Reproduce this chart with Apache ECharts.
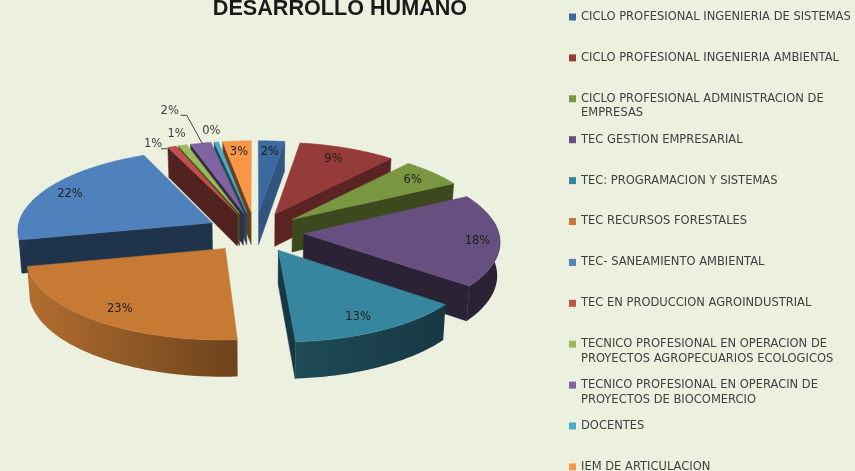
<!DOCTYPE html>
<html>
<head>
<meta charset="utf-8">
<style>
html,body{margin:0;padding:0;background:#ebf0df;}
#chart{width:855px;height:471px;}
</style>
<script src="https://cdn.jsdelivr.net/npm/echarts@6/dist/echarts.min.js"></script>
</head>
<body>
<div id="chart"></div>
<script>
const chartTitle = 'DESARROLLO HUMANO';
const categories = [
  'CICLO PROFESIONAL INGENIERIA DE SISTEMAS',
  'CICLO PROFESIONAL INGENIERIA AMBIENTAL',
  'CICLO PROFESIONAL ADMINISTRACION DE\nEMPRESAS',
  'TEC GESTION EMPRESARIAL',
  'TEC: PROGRAMACION Y SISTEMAS',
  'TEC RECURSOS FORESTALES',
  'TEC- SANEAMIENTO AMBIENTAL',
  'TEC EN PRODUCCION AGROINDUSTRIAL',
  'TECNICO PROFESIONAL EN OPERACION DE\nPROYECTOS AGROPECUARIOS ECOLOGICOS',
  'TECNICO PROFESIONAL EN OPERACIN DE\nPROYECTOS DE BIOCOMERCIO',
  'DOCENTES',
  'IEM DE ARTICULACION'
];
// porcentajes
const values = [2.4, 8.9, 5.8, 18.4, 13.4, 22.7, 21.9, 0.8, 0.8, 1.9, 0.4, 2.6];
const colors = ['#3d6a9e','#953b39','#7a9640','#67507f','#37869f','#c67a34','#4f81bd','#c0504d','#9bbb59','#8064a2','#4bacc6','#f79646'];

// proyeccion de la torta 3D
const cx = 255, cy = 232, Rx = 195, Ry = 80.8, depth = 33;
const persp = 0.085, explode = 0.25, bottomScale = 0.988;
// brillo de la pared curva (izq, der)
const arcShade = {4: [0.55, 0.42], 5: [0.9, 0.55]};
// ajuste fino de la etiqueta interior
const labelNudge = {1: [-4, 0], 3: [7, 1], 4: [-7, -1], 5: [4, -1], 6: [-2, 0]};
// etiquetas fuera de la torta, relativas al borde
const callouts = {
  7: {off: [-19, -3], line: [[-11, 2], [-5, 2]]},
  8: {off: [-6, -11]},
  9: {off: [-31, -32], line: [[-20, -28], [-14, -28], [2, 1]]},
  10: {off: [-5, -11]}
};

const total = values.reduce((a, b) => a + b, 0);
const rad = d => d * Math.PI / 180;
const starts = [];
values.reduce((acc, v, i) => { starts[i] = acc; return acc + v; }, 0);

function project(X, Z, bottom) {
  const f = 1 / (1 - persp * Z);
  const k = bottom ? bottomScale : 1;
  return [cx + Rx * X * f * k, cy + Ry * Z * f + (bottom ? depth * f : 0)];
}
function shade(hex, s) {
  const n = parseInt(hex.slice(1), 16);
  const c = [n >> 16, (n >> 8) & 255, n & 255].map(v => Math.round(v * s));
  return 'rgb(' + c.join(',') + ')';
}
function faceShade(normal) {
  return normal < 170 ? 0.38 + (170 - normal) / 71 * 0.42 : 0.42;
}

function sliceGeom(i) {
  const a0 = starts[i] / total * 360;
  const a1 = (starts[i] + values[i]) / total * 360;
  const mid = (a0 + a1) / 2;
  const X0 = explode * Math.sin(rad(mid));
  const Z0 = -explode * Math.cos(rad(mid));
  const rim = (a, r) => [X0 + r * Math.sin(rad(a)), Z0 - r * Math.cos(rad(a))];
  return {a0, a1, mid, X0, Z0, rim};
}

function renderSlice(i) {
  const g = sliceGeom(i);
  const color = colors[i];
  const children = [];
  const poly = (points, fill, z2) => children.push({
    type: 'polygon', z2,
    shape: {points},
    style: {fill, stroke: fill, lineWidth: 0.5}
  });
  const arcPts = (from, to, bottom) => {
    const pts = [];
    const n = Math.max(2, Math.ceil(Math.abs(to - from)));
    for (let k = 0; k <= n; k++) {
      const p = g.rim(from + (to - from) * k / n, 1);
      pts.push(project(p[0], p[1], bottom));
    }
    return pts;
  };
  const apexT = project(g.X0, g.Z0, false);
  const apexB = project(g.X0, g.Z0, true);

  // caras de corte visibles
  const cut = (a, normal) => {
    if (-Math.cos(rad(normal)) <= 0) return;
    const p = g.rim(a, 1);
    poly([apexT, project(p[0], p[1], false), project(p[0], p[1], true), apexB],
      shade(color, faceShade(normal)), 1);
  };
  cut(g.a0, g.a0 - 90);
  cut(g.a1, g.a1 + 90);

  // pared curva, solo la parte que mira al frente
  const from = Math.max(g.a0, 80), to = Math.min(g.a1, 280);
  if (to > from) {
    const top = arcPts(from, to, false);
    const bot = arcPts(to, from, true);
    const sh = arcShade[i] || [0.42, 0.42];
    const fill = new echarts.graphic.LinearGradient(0, 0, 1, 0, [
      {offset: 0, color: shade(color, sh[0])},
      {offset: 1, color: shade(color, sh[1])}
    ]);
    children.push({
      type: 'polygon', z2: 2,
      shape: {points: top.concat(bot)},
      style: {fill}
    });
  }

  // cara superior
  poly([apexT].concat(arcPts(g.a0, g.a1, false)), color, 3);

  // etiqueta de porcentaje
  const pct = Math.round(values[i] / total * 100) + '%';
  const call = callouts[i];
  let lx, ly;
  if (call) {
    const r = g.rim(g.mid, 1);
    const e = project(r[0], r[1], false);
    lx = e[0] + call.off[0];
    ly = e[1] + call.off[1];
    if (call.line) {
      children.push({
        type: 'polyline', z2: 5,
        shape: {points: call.line.map(o => [e[0] + o[0], e[1] + o[1]])},
        style: {stroke: '#404040', lineWidth: 1, fill: 'none'}
      });
    }
  } else {
    const r = g.rim(g.mid, 0.85);
    const e = project(r[0], r[1], false);
    const nudge = labelNudge[i] || [0, 0];
    lx = e[0] + nudge[0];
    ly = e[1] + 1 + nudge[1];
  }
  children.push({
    type: 'text', z2: 6,
    style: {
      x: lx, y: ly, text: pct,
      align: 'center', verticalAlign: 'middle',
      fill: call ? '#404040' : '#1f1f1f',
      font: '11.5px "DejaVu Sans"'
    }
  });
  return {type: 'group', children};
}

// orden de pintado: de atras hacia adelante
const paintOrder = values.map((v, i) => i).sort((a, b) => sliceGeom(a).Z0 - sliceGeom(b).Z0);

const legendX = 569, legendY = 17, legendStep = 40.9, lineH = 14.5;
const legends = categories.map((name, i) => {
  const two = name.indexOf('\n') >= 0;
  const y = legendY + i * legendStep;
  return {
    left: legendX,
    top: two ? y - lineH * 1.5 : y - lineH / 2,
    padding: 0,
    orient: 'vertical',
    selectedMode: false,
    icon: 'rect',
    itemWidth: 7,
    itemHeight: 7,
    itemGap: 0,
    data: [name],
    // linea vacia arriba para que el cuadro quede a la altura de la primera linea
    formatter: n => (two ? ' \n' : '') + n,
    textStyle: {
      color: '#404040',
      fontFamily: 'DejaVu Sans',
      fontSize: 11.5,
      lineHeight: lineH
    }
  };
});

const chart = echarts.init(document.getElementById('chart'));
chart.setOption({
  animation: false,
  backgroundColor: '#ebf0df',
  title: {
    text: chartTitle,
    left: 340,
    top: -2,
    padding: 0,
    textAlign: 'center',
    textStyle: {fontFamily: 'Liberation Sans', fontWeight: 'bold', fontSize: 21.6, color: '#1a1a1a'}
  },
  legend: legends,
  series: categories.map((name, i) => ({
    type: 'custom',
    name,
    coordinateSystem: 'none',
    silent: true,
    z: 2 + paintOrder.indexOf(i),
    itemStyle: {color: colors[i]},
    data: [values[i]],
    renderItem: () => renderSlice(i)
  }))
});
</script>
</body>
</html>
